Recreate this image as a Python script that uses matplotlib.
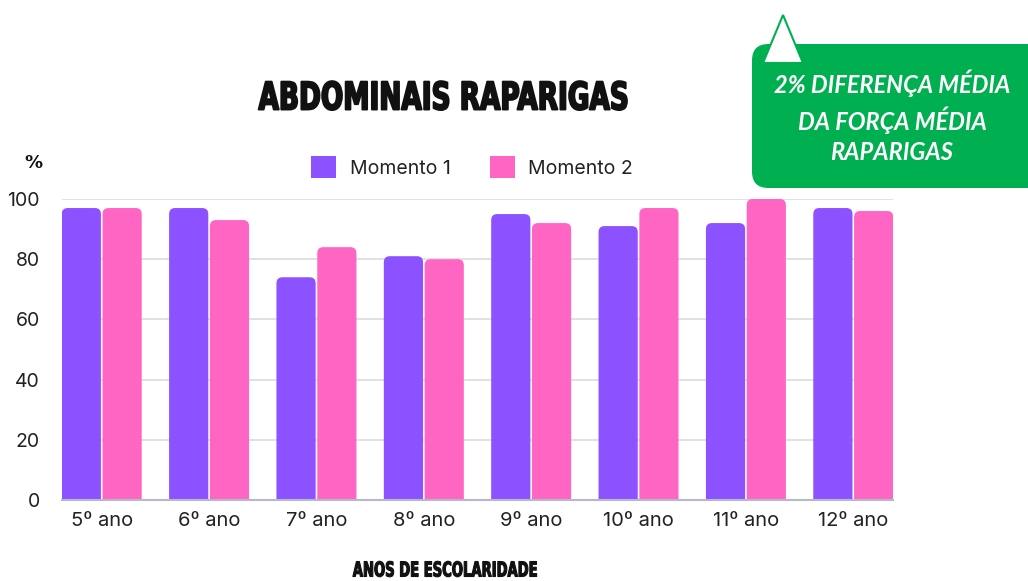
import matplotlib
matplotlib.use("Agg")
import matplotlib.pyplot as plt
import numpy as np
from matplotlib.patches import FancyBboxPatch, Polygon, Patch
from matplotlib.patheffects import AbstractPathEffect
from matplotlib.transforms import Affine2D

categories = ["5º ano", "6º ano", "7º ano", "8º ano", "9º ano", "10º ano", "11º ano", "12º ano"]
momento1 = [97, 97, 74, 81, 95, 91, 92, 97]
momento2 = [97, 93, 84, 80, 92, 97, 100, 96]
series_names = ["Momento 1", "Momento 2"]
yticks = [0, 20, 40, 60, 80, 100]

c1 = "#8C52FF"
c2 = "#FF66C4"
green = "#00B050"

W, H = 1028, 581
fig = plt.figure(figsize=(W / 100, H / 100), dpi=100)
fig.patch.set_facecolor("white")


def fx(px):
    return px / W


def fy(py):
    return 1 - py / H


class SqueezeX(AbstractPathEffect):
    """Horizontally condense text around a centre (display pixels)."""

    def __init__(self, sx, cx_px, stroke=0.0):
        super().__init__()
        self.sx = sx
        self.cx = cx_px
        self.stroke = stroke

    def draw_path(self, renderer, gc, tpath, affine, rgbFace=None):
        aff = affine + Affine2D().translate(-self.cx, 0).scale(self.sx, 1).translate(self.cx, 0)
        gc0 = renderer.new_gc()
        gc0.copy_properties(gc)
        if self.stroke and rgbFace is not None:
            gc0.set_linewidth(self.stroke)
            gc0.set_foreground(rgbFace)
        renderer.draw_path(gc0, tpath, aff, rgbFace)
        gc0.restore()


ax = fig.add_axes([fx(62), fy(500), fx(893) - fx(62), fy(199) - fy(500)])
n = len(categories)
x = np.arange(n)
bw = 0.365
off = 0.19
ax.set_xlim(-0.37, n - 1 + 0.37)
ax.set_ylim(0, 100)

bbox = ax.get_position()
ax_w_px = bbox.width * W
ax_h_px = bbox.height * H
xr = ax.get_xlim()[1] - ax.get_xlim()[0]
px_per_x = ax_w_px / xr
px_per_y = ax_h_px / 100
aspect = px_per_x / px_per_y
r = 6 / px_per_x

for vals, color, sgn in [(momento1, c1, -1), (momento2, c2, 1)]:
    bars = ax.bar(x + sgn * off, vals, width=bw, color=color, alpha=0)
    for b in bars:
        x0 = b.get_x()
        h = b.get_height()
        p = FancyBboxPatch((x0, -r * aspect), bw, h + r * aspect,
                           boxstyle=f"round,pad=0,rounding_size={r}",
                           mutation_aspect=aspect, facecolor=color,
                           edgecolor="none", zorder=3)
        ax.add_patch(p)

ax.set_yticks(yticks)
ax.yaxis.grid(True, color="#dcdcdc", linewidth=1.2, zorder=0)
ax.set_axisbelow(True)
for s in ["top", "right", "left"]:
    ax.spines[s].set_visible(False)
ax.spines["bottom"].set_color("#b8b8cc")
ax.spines["bottom"].set_linewidth(1.5)
ax.spines["bottom"].set_zorder(4)
ax.tick_params(axis="both", length=0, labelcolor="#222222")
ax.tick_params(axis="y", pad=16, labelsize=14)
ax.tick_params(axis="x", pad=9, labelsize=14.5)
ax.set_xticks(x)
ax.set_xticklabels(categories)
for lab in ax.get_xticklabels() + ax.get_yticklabels():
    lab.set_family(["Inter", "DejaVu Sans"])

# "%" label
fig.text(fx(33), fy(163), "%", ha="center", va="center", fontsize=13,
         fontweight="bold", color="#111111")

# Title (condensed look)
fig.text(fx(444), fy(99.5), "ABDOMINAIS RAPARIGAS", ha="center", va="center",
         fontsize=27.5, fontweight="bold", family="DejaVu Sans", color="#111111",
         path_effects=[SqueezeX(0.69, 444, stroke=1.4)])

# x label
fig.text(fx(445), fy(570.5), "ANOS DE ESCOLARIDADE", ha="center", va="center",
         fontsize=14.8, fontweight="bold", family="DejaVu Sans", color="#111111",
         path_effects=[SqueezeX(0.64, 445, stroke=0.8)])

# Legend
handles = [Patch(facecolor=c1, edgecolor="none"), Patch(facecolor=c2, edgecolor="none")]
leg = fig.legend(handles, series_names, loc="center", bbox_to_anchor=(fx(472), fy(167)),
                 ncol=2, frameon=False, handlelength=1.3, handleheight=1.3,
                 columnspacing=2.0, handletextpad=0.7,
                 prop={"family": ["Inter", "DejaVu Sans"], "size": 14})
for t in leg.get_texts():
    t.set_color("#222222")

# Callout box
box = FancyBboxPatch((fx(752), fy(188)), fx(1045) - fx(752), fy(44) - fy(188),
                     boxstyle="round,pad=0,rounding_size=0.016",
                     mutation_aspect=W / H, transform=fig.transFigure,
                     facecolor=green, edgecolor="none", zorder=5)
fig.patches.append(box)
tri = Polygon([(fx(763), fy(63)), (fx(803), fy(63)), (fx(783), fy(15))], closed=True,
              transform=fig.transFigure, facecolor="white", edgecolor=green,
              linewidth=1.5, zorder=6)
fig.patches.append(tri)
fig.text(fx(892), fy(117), "2% DIFERENÇA MÉDIA\nDA FORÇA MÉDIA\nRAPARIGAS",
         ha="center", va="center", fontsize=17, fontweight="bold", style="italic",
         color="white", family=["Lato", "DejaVu Sans"], linespacing=1.4, zorder=7)

fig.savefig("out.png", dpi=100)
